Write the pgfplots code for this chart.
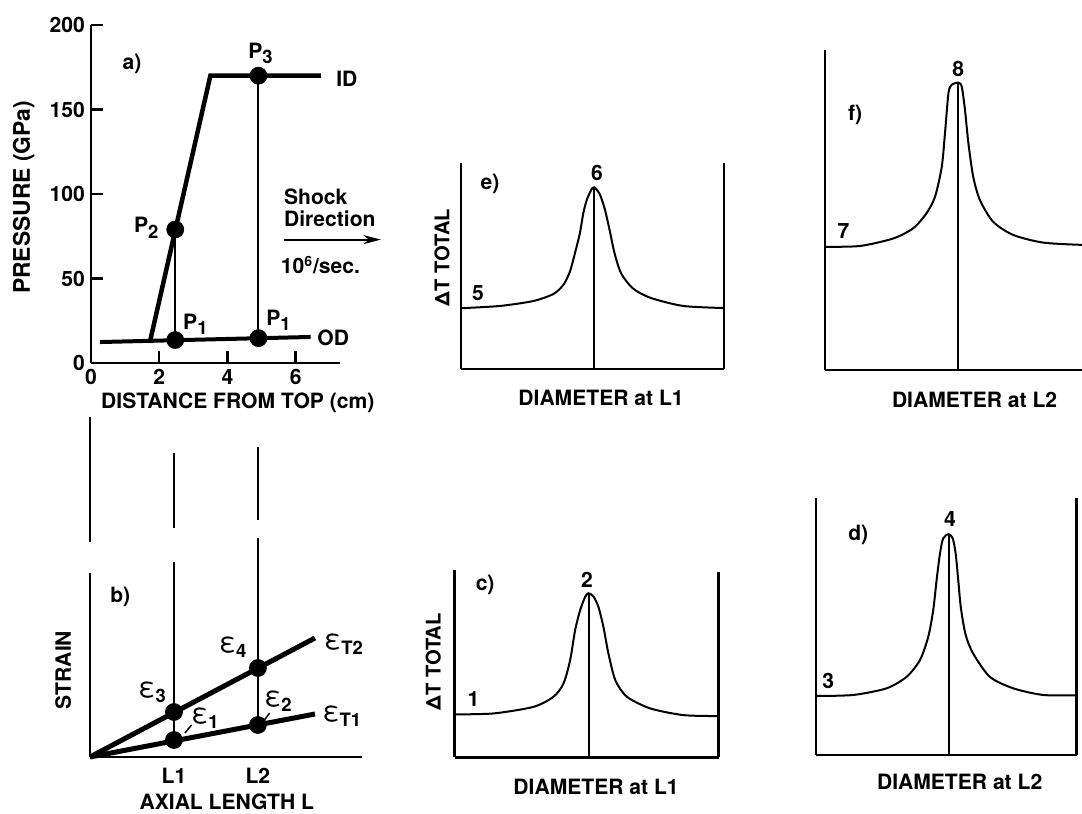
\documentclass[border=0pt]{standalone}
\usepackage{fontspec}
\setmainfont{TeX Gyre Heros}
\usepackage{pgfplots}
\pgfplotsset{compat=1.18}
\usetikzlibrary{arrows.meta}

\newcommand{\lab}{\fontsize{12}{14}\selectfont\bfseries}
\newcommand{\sub}[1]{\raisebox{-0.45ex}{\fontsize{10.5}{12}\selectfont #1}}
\newcommand{\eps}[1]{{\fontsize{16}{18}\selectfont\mdseries ε}\sub{#1}}

\pgfplotsset{
  panel/.style={
    scale only axis, anchor=south west,
    axis lines=left,
    axis line style={-, line width=0.5mm},
    clip=false,
    xtick=\empty, ytick=\empty,
    xmin=0, xmax=100, ymin=0, ymax=100,
  },
  curve/.style={line width=0.4mm, smooth, tension=0.45, no marks},
  thin/.style={line width=0.4mm, no marks},
  dot/.style={only marks, mark=*, mark size=1.7mm, mark options={fill=black}},
}

\begin{document}
\begin{tikzpicture}[font=\lab]
\useasboundingbox (0,0) rectangle (216.4mm,162.8mm);

% a) pressure along the cylinder
\begin{axis}[
  scale only axis, anchor=south west, at={(18.2mm,90.2mm)},
  width=49.8mm, height=67.6mm,
  xmin=0, xmax=7.3, ymin=0, ymax=200,
  axis lines=left, axis line style={-, line width=0.5mm},
  xtick={0,2,4,6}, ytick={0,50,100,150,200},
  tick align=inside, major tick length=2.4mm,
  tick style={line width=0.5mm, black},
  /pgf/number format/assume math mode=true,
  ticklabel style={font=\lab},
  clip=false,
]
\addplot[line width=0.9mm, no marks] coordinates {(1.74,13.6) (3.5,170) (6.74,170)};
\addplot[line width=0.8mm, no marks] coordinates {(0.26,12.4) (6.44,15.4)};
\addplot[thin] coordinates {(2.47,13.6) (2.47,79)};
\addplot[thin] coordinates {(4.91,14.7) (4.91,170)};
\addplot[dot] coordinates {(2.47,79) (2.47,13.6) (4.91,14.7) (4.91,170)};
\node at (axis cs:1.2,177) {a)};
\node at (axis cs:4.97,183) {P\sub{3}};
\node at (axis cs:7.5,168) {ID};
\node at (axis cs:1.62,80) {P\sub{2}};
\node at (axis cs:3.06,23) {P\sub{1}};
\node at (axis cs:5.5,25) {P\sub{1}};
\node at (axis cs:7.1,15) {OD};
\node[anchor=west, align=left, inner sep=0pt, font=\lab\linespread{0.9}\selectfont] at (axis cs:5.65,92) {Shock\\Direction};
\draw[line width=0.4mm, -{Stealth[length=3.5mm,width=1.8mm]}] (axis cs:5.65,73) -- (axis cs:8.5,73);
\node[anchor=west, inner sep=0pt] at (axis cs:5.56,58) {10\textsuperscript{6}/sec.};
\node[rotate=90, font=\fontsize{13}{15}\selectfont\bfseries] at (axis cs:-1.97,98) {PRESSURE (GPa)};
\node[anchor=west, inner sep=0pt] at (axis cs:0.29,-23.7) {DISTANCE FROM TOP (cm)};
\end{axis}

% b) strain along the axis
\begin{axis}[
  scale only axis, anchor=south west, at={(18mm,11.4mm)},
  width=54.4mm, height=36.8mm,
  xmin=0, xmax=3.24, ymin=0, ymax=18.4,
  axis lines=left, axis line style={-, line width=0.5mm},
  xtick={1,2}, xticklabels={L1,L2}, ytick=\empty,
  major tick length=0pt, xticklabel style={font=\lab, yshift=-1.0mm},
  clip=false,
]
\addplot[thin] coordinates {(1,1.8) (1,19.5)};
\addplot[thin] coordinates {(1,22.9) (1,30.4)};
\addplot[thin] coordinates {(2,3.2) (2,21.9)};
\addplot[thin] coordinates {(2,23.7) (2,31.0)};
\addplot[line width=0.5mm, no marks] coordinates {(0,21.5) (0,34)};
\addplot[line width=1mm, no marks] coordinates {(0,0) (2.68,11.9)};
\addplot[line width=1mm, no marks] coordinates {(0,0) (2.68,4.3)};
\addplot[dot] coordinates {(1,4.5) (1,1.7) (2,8.9) (2,3.2)};
\node at (axis cs:0.36,16) {b)};
\node at (axis cs:0.74,6.5) {\eps{3}};
\node at (axis cs:1.37,3.9) {\eps{1}};
\draw[line width=0.3mm] (axis cs:1.13,2.4) -- (axis cs:1.21,3.2);
\node at (axis cs:1.7,11) {\eps{4}};
\node at (axis cs:2.24,5.6) {\eps{2}};
\draw[line width=0.3mm] (axis cs:2.06,3.5) -- (axis cs:2.14,4.4);
\node at (axis cs:3.02,11.3) {\eps{T2}};
\node at (axis cs:3.0,4.1) {\eps{T1}};
\node at (axis cs:1.63,-4.5) {AXIAL LENGTH L};
\node[rotate=90] at (axis cs:-0.32,8.7) {STRAIN};
\end{axis}

% e) diameter at L1 (upper)
\begin{axis}[panel, at={(92.2mm,89mm)}, width=52.6mm, height=41.2mm]
\addplot[curve] coordinates {
  (0,29.5) (14.8,30.6) (27.5,33.0) (35.1,36.4) (38.9,40.8) (41.4,47.2)
  (43.3,56.1) (45.2,65.9) (46.5,75.6) (47.8,82.0) (49.5,86.9) (50.6,88.2)
  (52.6,85.3) (54.6,78.0) (56.5,67.5) (58.4,56.1) (60.9,46.4) (65.3,39.2)
  (71.9,34.6) (84.5,30.6) (100,29.6)};
\addplot[thin] coordinates {(50.6,0) (50.6,88.2)};
\addplot[line width=0.5mm, no marks] coordinates {(100,0) (100,100)};
\node at (axis cs:11,90) {e)};
\node at (axis cs:51.7,95) {6};
\node at (axis cs:6.5,37) {5};
\node[rotate=90, font=\fontsize{11.5}{13}\selectfont\bfseries] at (axis cs:-7.2,54) {ΔT TOTAL};
\node[anchor=west, inner sep=0pt] at (axis cs:21.7,-14.1) {DIAMETER at L1};
\end{axis}

% f) diameter at L2 (upper)
\begin{axis}[panel, at={(165mm,88.8mm)}, width=51.4mm, height=64mm, xmax=96.4]
\addplot[curve] coordinates {
  (0,38.5) (13.1,38.75) (25.6,41.1) (33.1,44.3) (38.1,49.0) (41.3,54.2)
  (43.8,63.5) (45.0,73.9) (46.3,86.5) (47.5,89.1) (50,89.8) (51.3,88.5)
  (52.5,81.3) (53.8,70.8) (55.6,60.4) (58.1,53.1) (63.1,46.3) (70.6,42.2)
  (81.9,39.8) (96.4,39.1)};
\addplot[thin] coordinates {(50,0) (50,89.8)};
\node at (axis cs:11.3,79.7) {f)};
\node at (axis cs:50,94) {8};
\node at (axis cs:6.9,43.5) {7};
\node[anchor=west, inner sep=0pt] at (axis cs:25.0,-9.4) {DIAMETER at L2};
\end{axis}

% c) diameter at L1 (lower)
\begin{axis}[panel, at={(90.9mm,11.3mm)}, width=52.8mm, height=37.5mm]
\addplot[curve] coordinates {
  (0,23.0) (14.8,23.5) (29.9,27.0) (37.5,32.4) (41.3,39.5) (43.8,51.9)
  (45.7,68.0) (47.6,78.6) (49.5,85.7) (50.8,87.6) (52.7,85.7) (54.5,80.4)
  (56.4,69.7) (58.3,55.5) (60.9,41.3) (65.3,32.4) (74.1,26.2) (86.7,22.6)
  (100,22.1)};
\addplot[thin] coordinates {(50.8,0) (50.8,87.6)};
\addplot[line width=0.5mm, no marks] coordinates {(100,0) (100,99)};
\node at (axis cs:11.6,92) {c)};
\node at (axis cs:50.2,95) {2};
\node at (axis cs:7.2,31) {1};
\node[rotate=90, font=\fontsize{11.5}{13}\selectfont\bfseries] at (axis cs:-8.0,51) {ΔT TOTAL};
\node[anchor=west, inner sep=0pt] at (axis cs:22.2,-15.7) {DIAMETER at L1};
\end{axis}

% d) diameter at L2 (lower)
\begin{axis}[panel, at={(163.2mm,11.8mm)}, width=52.1mm, height=51.3mm]
\addplot[curve] coordinates {
  (0,23.0) (14.3,23.4) (27.1,26.0) (34.8,30.5) (39.9,37.0) (43.1,46.1)
  (45.0,56.5) (46.3,68.2) (47.6,78.6) (48.8,84.4) (50.9,86.1) (52.5,84.4)
  (53.6,78.6) (54.6,68.2) (55.6,57.5) (57.4,47.0) (60.3,39.6) (66.7,30.5)
  (75.7,26.0) (87.2,23.4) (100,23.3)};
\addplot[thin] coordinates {(50.9,0) (50.9,86.1)};
\addplot[line width=0.5mm, no marks] coordinates {(100,0) (100,100)};
\node at (axis cs:16.2,85.7) {d)};
\node at (axis cs:51.4,92) {4};
\node at (axis cs:4.7,29) {3};
\node[anchor=west, inner sep=0pt] at (axis cs:23.3,-10.4) {DIAMETER at L2};
\end{axis}
\end{tikzpicture}
\end{document}
